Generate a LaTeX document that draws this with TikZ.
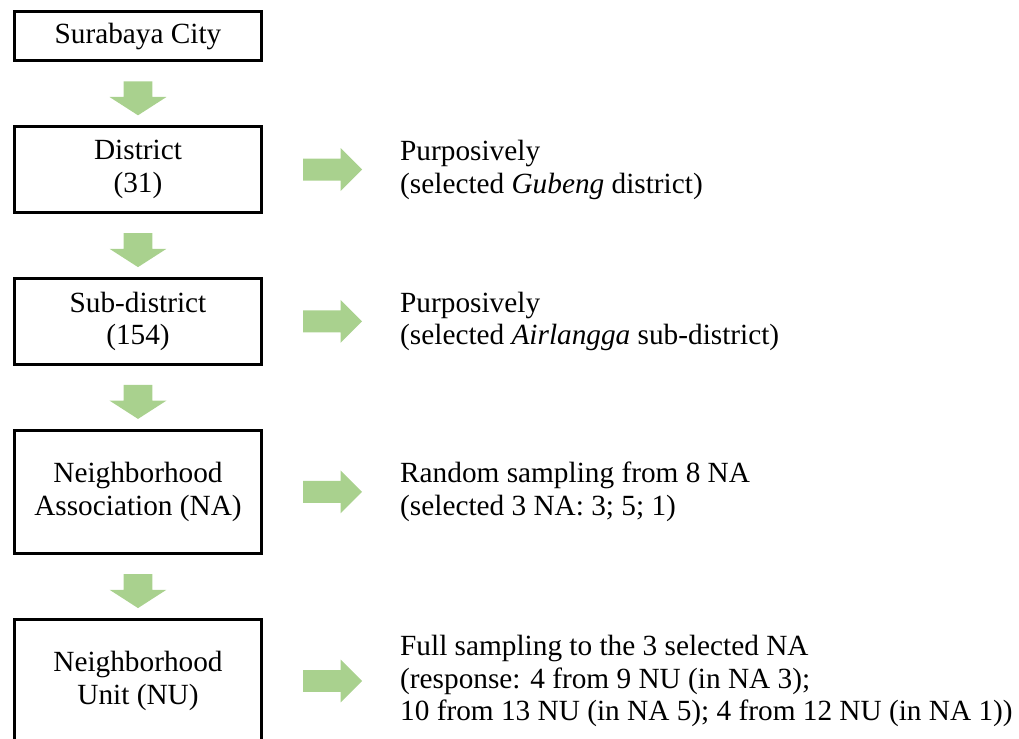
\documentclass[tikz,border=0pt]{standalone}
\usepackage{fontspec}
\setmainfont{Liberation Serif}
\usetikzlibrary{positioning,shapes.arrows,calc}
\definecolor{arrowgreen}{RGB}{169,209,142}

\begin{document}
\begin{tikzpicture}[
                    level/.style={
                        rectangle,
                        draw=black,
                        line width=1.2pt,
                        minimum width=3.71cm,
                        inner sep=0pt,
                        align=center
                    },
                    note/.style={
                        inner sep=0pt,
                        align=left
                    },
                    downarrow/.style={
                        single arrow,
                        fill=arrowgreen,
                        inner xsep=0pt,
                        inner ysep=0.21cm,
                        outer sep=0pt,
                        minimum height=0.51cm,
                        single arrow head extend=0.21cm,
                        single arrow tip angle=114.5,
                        rotate=-90
                    },
                    rightarrow/.style={
                        single arrow,
                        fill=arrowgreen,
                        inner xsep=0pt,
                        inner ysep=0.1575cm,
                        outer sep=0pt,
                        minimum height=0.885cm,
                        single arrow head extend=0.1575cm,
                        single arrow tip angle=90
                    },
                    node distance=0.945cm,
                    font=\fontsize{12.5}{14}\selectfont
                ]
                \useasboundingbox (0,0) rectangle (15.285,-11.07);

                \node (SC) [level, minimum height=0.74cm] at (2.07,-0.541) {Surabaya City};
                \node (D) [level, minimum height=1.29cm, below=of SC] {District\\(31)};
                \node (SD) [level, minimum height=1.29cm, below=of D] {Sub-district\\(154)};
                \node (NA) [level, minimum height=1.85cm, below=of SD] {Neighborhood\\Association (NA)};
                \node (NU) [level, minimum height=1.85cm, below=of NA] {Neighborhood\\Unit (NU)};

                \node (DArrow) [rightarrow, right=0.6cm of D] {};
                \node (SDArrow) [rightarrow, right=0.6cm of SD] {};
                \node (NAArrow) [rightarrow, right=0.6cm of NA] {};
                \node (NUArrow) [rightarrow, right=0.6cm of NU] {};

                \node (DNote) [note, right=2.05cm of D] {Purposively\\(selected \textit{Gubeng} district)};
                \node (SDNote) [note, right=2.05cm of SD] {Purposively\\(selected \textit{Airlangga} sub-district)};
                \node (NANote) [note, right=2.05cm of NA] {Random sampling from 8 NA\\(selected 3 NA: 3; 5; 1)};
                \node (NUNote) [note, right=2.05cm of NU] {Full sampling to the 3 selected NA\\(response: 4 from 9 NU (in NA 3);\\10 from 13 NU (in NA 5); 4 from 12 NU (in NA 1))};

                \node (A1) [downarrow] at ($(SC.south)!0.5!(D.north)$) {};
                \node (A2) [downarrow] at ($(D.south)!0.5!(SD.north)$) {};
                \node (A3) [downarrow] at ($(SD.south)!0.5!(NA.north)$) {};
                \node (A4) [downarrow] at ($(NA.south)!0.5!(NU.north)$) {};
            \end{tikzpicture}
\end{document}
